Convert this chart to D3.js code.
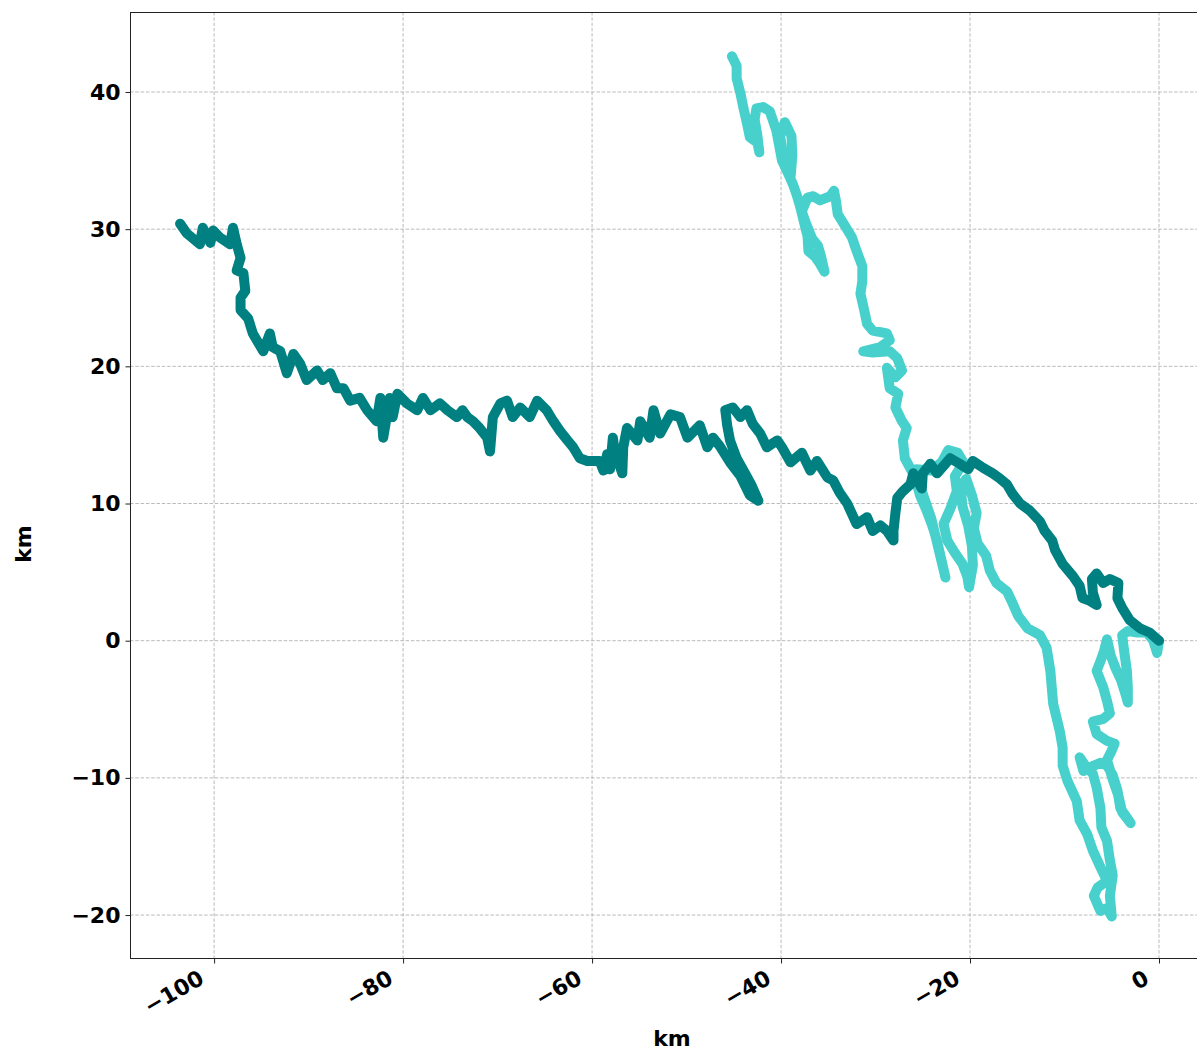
<!DOCTYPE html>
<html>
<head>
<meta charset="utf-8">
<script src="https://cdn.jsdelivr.net/npm/d3@7"></script>
<style>
  html, body { margin: 0; padding: 0; background: #fff; }
  svg { display: block; font-family: "DejaVu Sans", sans-serif; }
</style>
</head>
<body>
<svg id="chart" width="1197" height="1050"></svg>
<script>
// ---- data (km) ----
const xTicks = [-100, -80, -60, -40, -20, 0];
const yTicks = [-20, -10, 0, 10, 20, 30, 40];
const xLabel = "km";
const yLabel = "km";

// dark teal track (starts at origin)
const trackDark = [
[0,0],[-1.0,0.6],[-2.0,0.9],[-3.1,1.5],[-3.9,2.4],[-4.4,3.1],[-4.3,4.2],[-5.2,4.5],[-5.9,4.2],[-6.6,4.9],
[-7.1,4.5],[-7.0,3.5],[-6.6,2.6],[-7.3,2.9],[-8.1,3.1],[-8.4,4.0],[-9.1,4.7],[-10.2,5.6],[-11.0,6.6],[-11.3,7.3],
[-12.1,8.0],[-12.6,8.7],[-13.7,9.5],[-14.7,10.0],[-15.5,10.7],[-16.1,11.4],[-16.8,11.8],[-17.6,12.2],[-18.6,12.6],[-19.7,13.1],
[-20.2,12.5],[-21.1,12.9],[-22.1,13.3],[-22.6,12.9],[-23.5,12.2],[-24.2,12.9],[-25.0,12.2],[-25.1,11.1],[-26.0,12.2],[-26.3,11.4],
[-27.1,10.9],[-27.7,10.4],[-27.9,9.3],[-28.1,8.0],[-28.1,7.3],[-28.8,8.0],[-29.5,8.4],[-30.3,8.0],[-30.9,9.0],[-32.0,8.5],
[-33.0,10.0],[-33.8,10.8],[-34.5,11.7],[-35.1,11.9],[-36.2,13.1],[-36.9,12.4],[-37.8,13.7],[-39.0,13.0],[-39.9,14.1],[-40.4,14.6],
[-41.5,14.1],[-42.2,15.1],[-43.0,15.8],[-43.6,16.8],[-44.3,16.3],[-45.1,17.0],[-45.9,16.8],[-45.7,15.7],[-45.4,14.6],[-44.7,13.3],
[-43.8,12.2],[-43.1,11.3],[-42.4,10.2],[-43.3,10.6],[-44.3,12.0],[-45.4,13.0],[-46.5,14.2],[-47.2,14.8],[-47.8,14.1],[-48.6,15.7],
[-49.9,14.8],[-50.7,16.3],[-51.7,16.5],[-52.8,15.1],[-53.5,16.8],[-53.9,14.8],[-54.9,16.0],[-55.2,14.6],[-56.3,15.5],[-56.7,14.1],
[-56.8,12.2],[-57.6,13.8],[-57.8,14.8],[-58.1,12.5],[-58.4,13.6],[-58.8,12.4],[-59.2,13.1],[-60.5,13.1],[-61.3,13.3],[-62.0,14.1],
[-62.6,14.6],[-63.4,15.3],[-64.1,16.0],[-64.8,16.8],[-65.8,17.5],[-66.6,16.3],[-67.6,17.0],[-68.4,16.3],[-69.0,17.5],[-69.7,17.3],
[-70.5,16.3],[-70.8,13.8],[-71.1,14.8],[-71.9,15.5],[-72.6,16.0],[-73.2,16.3],[-73.7,16.8],[-74.3,16.3],[-75.3,16.8],[-76.1,17.3],
[-77.1,16.8],[-77.9,17.7],[-78.5,16.8],[-79.6,17.3],[-80.6,18.0],[-81.1,16.3],[-81.4,17.7],[-82.1,14.8],[-82.4,17.7],[-82.8,16.0],
[-83.8,16.8],[-84.6,17.7],[-85.6,17.5],[-86.3,18.4],[-87.0,18.4],[-87.7,19.5],[-88.5,19.0],[-89.1,19.7],[-90.2,19.0],[-90.9,20.2],
[-91.6,20.9],[-92.3,19.5],[-93.0,21.1],[-93.8,21.4],[-94.1,22.4],[-94.8,21.1],[-95.9,22.4],[-96.4,23.5],[-97.2,24.1],[-97.2,25.0],
[-96.7,25.5],[-96.9,26.8],[-97.6,27.0],[-97.2,27.9],[-97.6,28.9],[-98.0,30.1],[-98.3,28.9],[-99.4,29.4],[-100.1,29.9],[-100.4,29.0],
[-101.2,30.1],[-101.5,28.9],[-102.9,29.7],[-103.6,30.4]
];

// turquoise track (from its northern end back to origin)
const trackLight = [
[-45.2,42.6],[-44.7,41.9],[-44.7,41.0],[-44.3,39.9],[-44.0,38.9],[-43.6,37.7],[-43.3,36.7],[-42.5,36.3],[-42.3,35.6],[-42.5,36.8],
[-42.8,38.0],[-42.6,38.8],[-41.9,38.9],[-41.2,38.6],[-40.5,37.2],[-39.9,35.0],[-39.0,33.7],[-38.8,35.4],[-38.9,36.8],[-39.6,37.8],
[-40.1,36.8],[-39.6,34.6],[-38.7,33.2],[-38.3,32.4],[-38.0,31.7],[-37.6,30.6],[-37.2,29.5],[-37.1,28.4],[-36.4,28.0],[-35.9,27.5],
[-35.4,26.9],[-35.8,28.1],[-36.1,28.8],[-36.7,29.3],[-37.4,30.5],[-37.8,31.3],[-37.2,32.3],[-36.6,32.4],[-35.9,32.1],[-34.8,32.4],
[-34.4,32.8],[-34.2,32.1],[-34.0,31.1],[-33.2,30.2],[-32.5,29.4],[-32.0,28.4],[-31.4,27.3],[-31.4,26.2],[-31.6,25.3],[-31.2,24.1],
[-30.9,23.1],[-30.3,22.6],[-28.8,22.4],[-28.5,21.9],[-29.5,21.4],[-31.3,21.1],[-30.3,21.0],[-28.5,21.1],[-27.7,20.6],[-27.2,19.7],
[-27.9,19.2],[-28.8,19.9],[-28.5,18.4],[-27.6,18.0],[-27.9,17.0],[-27.2,16.0],[-26.7,15.5],[-27.1,14.6],[-26.9,13.3],[-25.8,11.9],
[-25.3,10.6],[-24.6,9.5],[-24.0,8.4],[-23.5,7.3],[-23.0,5.8],[-22.6,4.6],[-23.3,6.6],[-24.1,8.9],[-25.1,10.9],[-25.7,12.5],
[-24.2,12.4],[-23.0,13.0],[-22.3,13.9],[-21.3,13.7],[-20.7,13.0],[-21.6,12.0],[-21.4,10.9],[-22.1,9.6],[-22.8,8.5],[-22.4,7.3],
[-21.6,6.4],[-20.8,5.6],[-20.3,4.7],[-20.1,3.9],[-19.7,5.5],[-19.8,6.9],[-20.2,8.4],[-20.8,9.8],[-21.0,11.2],[-20.4,11.8],
[-19.8,10.6],[-19.3,9.3],[-19.6,8.2],[-19.2,7.1],[-18.3,6.2],[-17.9,5.1],[-17.2,4.2],[-16.1,3.6],[-15.6,2.9],[-14.9,1.8],
[-13.9,0.9],[-12.6,0.4],[-11.9,-0.5],[-11.5,-2.2],[-11.2,-4.6],[-10.5,-6.6],[-10.2,-7.8],[-10.2,-9.1],[-9.7,-10.2],[-8.7,-11.7],
[-8.4,-13.1],[-7.6,-14.1],[-7.0,-15.3],[-6.2,-16.5],[-5.5,-17.5],[-6.5,-18.0],[-6.9,-18.6],[-6.2,-19.7],[-5.5,-19.5],[-5.0,-20.1],
[-5.2,-18.6],[-4.9,-17.1],[-5.2,-16.0],[-5.5,-14.6],[-6.1,-13.6],[-6.2,-12.2],[-6.6,-10.7],[-7.0,-9.7],[-7.7,-9.2],[-8.4,-8.5],
[-8.0,-9.5],[-7.2,-9.2],[-6.2,-8.9],[-5.5,-9.1],[-4.9,-9.8],[-4.4,-10.9],[-4.1,-12.2],[-3.4,-12.9],[-3.0,-13.3],[-3.9,-12.5],
[-4.3,-11.3],[-4.9,-10.1],[-5.5,-8.7],[-5.0,-8.0],[-4.7,-7.5],[-5.5,-7.3],[-6.6,-6.8],[-7.0,-5.9],[-5.9,-5.7],[-5.2,-5.3],
[-5.5,-4.4],[-5.9,-3.4],[-6.6,-2.2],[-6.2,-1.5],[-5.8,-0.7],[-5.5,0.1],[-5.1,-1.1],[-4.6,-2.0],[-4.0,-2.9],[-3.5,-4.0],
[-3.3,-4.5],[-3.3,-3.4],[-3.4,-2.2],[-3.7,-0.7],[-3.9,0.4],[-3.3,0.7],[-2.3,0.6],[-1.3,0.6],[-0.6,0],[-0.2,-0.9],
[0,0]
];

const colorDark = "#008080";
const colorLight = "#48D1CC";

// ---- layout ----
const svg = d3.select("#chart");
const mLeft = 130, mRight = 1197, mTop = 12, mBottom = 958;
const x = d3.scaleLinear().domain([-108.9, 4.02]).range([mLeft, mRight]);
const y = d3.scaleLinear().domain([-23.13, 45.83]).range([mBottom, mTop]);

// grid
const grid = svg.append("g");
grid.selectAll("line.vx").data(xTicks).enter().append("line")
  .attr("x1", d => x(d)).attr("x2", d => x(d))
  .attr("y1", mTop).attr("y2", mBottom)
  .attr("stroke", "#a8a8a8").attr("stroke-width", 0.8).attr("stroke-dasharray", "3.5,1.8");
grid.selectAll("line.hy").data(yTicks).enter().append("line")
  .attr("x1", mLeft).attr("x2", mRight)
  .attr("y1", d => y(d)).attr("y2", d => y(d))
  .attr("stroke", "#a8a8a8").attr("stroke-width", 0.8).attr("stroke-dasharray", "3.5,1.8");

// tracks
const line = d3.line().x(d => x(d[0])).y(d => y(d[1]));
svg.append("path").datum(trackLight).attr("d", line)
  .attr("fill", "none").attr("stroke", colorLight).attr("stroke-width", 10)
  .attr("stroke-linecap", "round").attr("stroke-linejoin", "round");
svg.append("path").datum(trackDark).attr("d", line)
  .attr("fill", "none").attr("stroke", colorDark).attr("stroke-width", 10)
  .attr("stroke-linecap", "round").attr("stroke-linejoin", "round");

// spines
svg.append("rect").attr("x", mLeft + 0.5).attr("y", mTop + 0.5)
  .attr("width", mRight - mLeft).attr("height", mBottom - mTop)
  .attr("fill", "none").attr("stroke", "#222").attr("stroke-width", 1);

const fmt = d => (d < 0 ? "\u2212" + Math.abs(d) : String(d));

// y axis
const yAxis = svg.append("g").attr("transform", `translate(${mLeft + 0.5},0)`)
  .call(d3.axisLeft(y).tickValues(yTicks).tickSize(5).tickPadding(5).tickFormat(fmt));
yAxis.select(".domain").remove();
yAxis.selectAll(".tick line").attr("stroke", "#222");
yAxis.selectAll(".tick text")
  .attr("font-family", "DejaVu Sans").attr("font-weight", "bold")
  .attr("font-size", 22).attr("fill", "#000");

// x axis
const xAxis = svg.append("g").attr("transform", `translate(0,${mBottom + 0.5})`)
  .call(d3.axisBottom(x).tickValues(xTicks).tickSize(5).tickFormat(fmt));
xAxis.select(".domain").remove();
xAxis.selectAll(".tick line").attr("stroke", "#222");
xAxis.selectAll(".tick text")
  .attr("font-family", "DejaVu Sans").attr("font-weight", "bold")
  .attr("font-size", 22).attr("fill", "#000")
  .attr("text-anchor", "end").attr("dy", null)
  .attr("y", null)
  .attr("transform", "translate(-9,24) rotate(-30)");

// axis labels
svg.append("text").attr("x", 672).attr("y", 1046)
  .attr("text-anchor", "middle").attr("font-weight", "bold")
  .attr("font-size", 22).text(xLabel);
svg.append("text").attr("transform", "translate(31,544) rotate(-90)")
  .attr("text-anchor", "middle").attr("font-weight", "bold")
  .attr("font-size", 22).text(yLabel);
</script>
</body>
</html>
